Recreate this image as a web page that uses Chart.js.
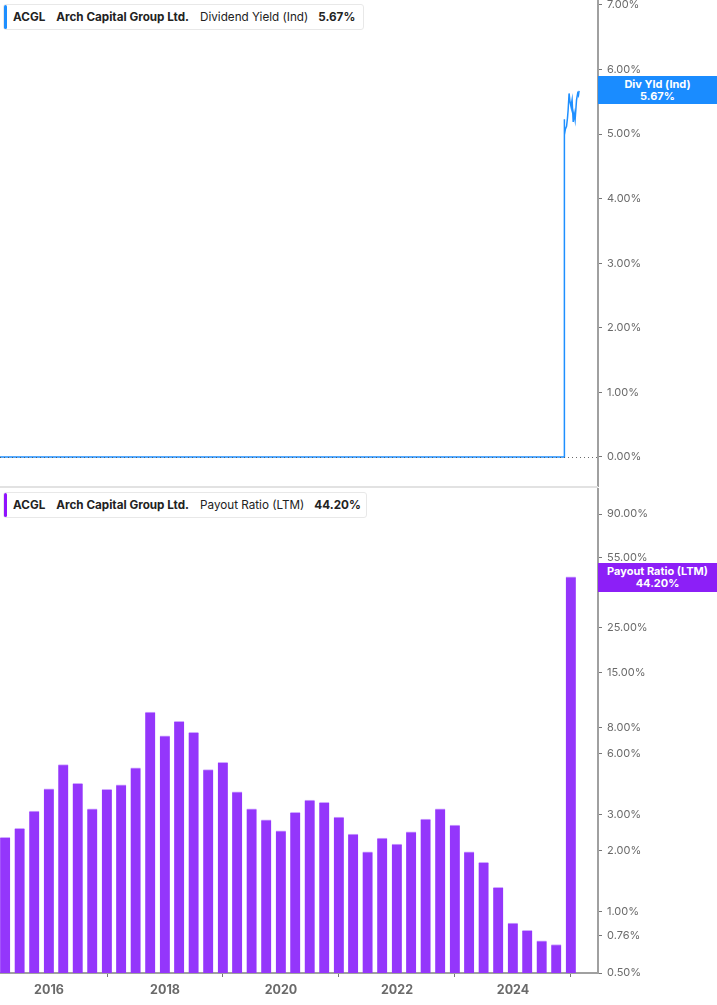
<!DOCTYPE html>
<html><head><meta charset="utf-8">
<script src="https://cdn.jsdelivr.net/npm/chart.js@4.4.1/dist/chart.umd.min.js"></script>
<style>
html,body{margin:0;padding:0;background:#fff;width:717px;height:1005px;overflow:hidden;font-family:Inter,"Noto Sans",sans-serif;}
#wrapTop{position:absolute;left:0;top:0;width:717px;height:487px;}
#wrapBot{position:absolute;left:0;top:488px;width:717px;height:517px;}
.divider{position:absolute;left:0;top:486px;width:598px;height:2px;background:#e2e2e2;}
.legend{position:absolute;background:#fff;border:1px solid #e8e8e8;border-radius:3px;font-size:11.7px;color:#222;height:26px;line-height:25px;padding:0 0 0 9px;white-space:nowrap;box-sizing:border-box}
.legend .bar{position:absolute;left:0;top:0;bottom:0;width:3px;border-radius:2px}
.legend span{margin-right:10px}
.legend b{font-weight:700}
.badge{position:absolute;left:598px;width:119px;color:#fff;font-size:11px;font-weight:700;text-align:center;line-height:11.5px;box-sizing:border-box;padding-top:3px}
</style>
</head><body>
<div id="wrapTop"><canvas id="cTop"></canvas></div>
<div class="divider"></div>
<div id="wrapBot"><canvas id="cBot"></canvas></div>

<div class="legend" style="left:3px;top:4px;width:361px;">
  <div class="bar" style="background:#1e8fff"></div>
  <b style="margin-right:11px">ACGL</b><b style="margin-right:11px">Arch Capital Group Ltd.</b><span>Dividend Yield (Ind)</span><b>5.67%</b>
</div>
<div class="legend" style="left:3px;top:492px;width:364px;">
  <div class="bar" style="background:#9013fe"></div>
  <b style="margin-right:11px">ACGL</b><b style="margin-right:11px">Arch Capital Group Ltd.</b><span>Payout Ratio (LTM)</span><b>44.20%</b>
</div>
<div class="badge" style="top:76px;height:28px;background:#1a8cff;">Div Yld (Ind)<br>5.67%</div>
<div class="badge" style="top:563px;height:29px;background:#8c1ff7;">Payout Ratio (LTM)<br>44.20%</div>

<script>
// ---- Data ----
const yieldDates = ["2015-01-01","2024-11-18","2024-11-19","2024-11-22","2024-11-27","2024-12-04","2024-12-10","2024-12-14","2024-12-20","2024-12-26","2025-01-01","2025-01-08","2025-01-15","2025-01-21","2025-01-27","2025-02-05","2025-02-12","2025-02-17","2025-02-21"];
const yieldValues = [0,0,5.23,4.99,5.08,5.12,5.25,5.37,5.63,5.50,5.43,5.53,5.19,5.32,5.22,5.53,5.63,5.60,5.67];

const payoutQuarters = ["2015-03-31","2015-06-30","2015-09-30","2015-12-31","2016-03-31","2016-06-30","2016-09-30","2016-12-31","2017-03-31","2017-06-30","2017-09-30","2017-12-31","2018-03-31","2018-06-30","2018-09-30","2018-12-31","2019-03-31","2019-06-30","2019-09-30","2019-12-31","2020-03-31","2020-06-30","2020-09-30","2020-12-31","2021-03-31","2021-06-30","2021-09-30","2021-12-31","2022-03-31","2022-06-30","2022-09-30","2022-12-31","2023-03-31","2023-06-30","2023-09-30","2023-12-31","2024-03-31","2024-06-30","2024-09-30","2024-12-31"];
const payoutValues = [2.32,2.57,3.12,4.02,5.28,4.28,3.20,4.00,4.21,5.10,9.58,7.33,8.63,7.62,4.99,5.43,3.88,3.20,2.83,2.50,3.08,3.54,3.45,2.92,2.41,1.97,2.30,2.15,2.47,2.85,3.20,2.67,1.97,1.75,1.32,0.88,0.81,0.72,0.69,44.20];

const yieldTicks = [0,1,2,3,4,5,6,7];
const payoutTicks = [0.5,0.76,1,2,3,6,8,15,25,45,55,90];
const yearTicks = [2016,2018,2020,2022,2024];

// ---- helpers ----
function decYear(s){
  const [y,m,d] = s.split('-').map(Number);
  const start = Date.UTC(y,0,1), end = Date.UTC(y+1,0,1);
  return y + (Date.UTC(y,m-1,d) - start)/(end-start);
}
const X_MIN = 2015.155, X_MAX = 2025.466;
const tickFont = {family:'Inter', size:11};
const tickColor = '#6a6a6a';
const axisColor = '#a0a0a0';
function noPad(s){ s.paddingTop = 0; s.paddingBottom = 0; }

const zeroLine = {
  id:'zeroLine',
  afterDatasetsDraw(chart){
    const y = Math.round(chart.scales.y.getPixelForValue(0));
    const ctx = chart.ctx, a = chart.chartArea;
    ctx.save();
    ctx.strokeStyle = 'rgba(80,80,80,0.85)';
    ctx.lineWidth = 1;
    ctx.setLineDash([1,3]);
    ctx.beginPath(); ctx.moveTo(a.left, y+0.5); ctx.lineTo(a.right, y+0.5); ctx.stroke();
    ctx.restore();
  }
};

// ---- Top chart ----
new Chart(document.getElementById('cTop'), {
  type:'line',
  data:{datasets:[{
    data: yieldDates.map((d,i)=>({x:decYear(d), y:yieldValues[i]})),
    borderColor:'#1e8fff', borderWidth:1.5, pointRadius:0, tension:0, fill:false
  }]},
  options:{
    responsive:true, maintainAspectRatio:false, animation:false,
    layout:{padding:0},
    plugins:{legend:{display:false}, tooltip:{enabled:false}},
    scales:{
      x:{type:'linear', min:X_MIN, max:X_MAX, display:false},
      y:{
        position:'right', min:-0.4646, max:7.077,
        afterFit(s){ s.width = 119; noPad(s); },
        afterBuildTicks(s){ s.ticks = yieldTicks.map(v=>({value:v})); },
        ticks:{callback:v=>Number(v).toFixed(2)+'%', color:tickColor, font:tickFont, padding:5, autoSkip:false},
        grid:{drawOnChartArea:false, drawTicks:true, tickLength:4, tickColor:'#777', tickWidth:1},
        border:{display:true, color:axisColor, width:2}
      }
    }
  },
  plugins:[zeroLine]
});

// ---- Bottom chart ----
new Chart(document.getElementById('cBot'), {
  type:'bar',
  data:{datasets:[{
    data: payoutQuarters.map((d,i)=>({x:decYear(d), y:payoutValues[i]})),
    backgroundColor:'#9436fb',
    borderColor:'#cfa9ff',
    borderWidth:{top:1,left:0,right:0,bottom:0},
    borderSkipped:'bottom',
    barThickness:10
  }]},
  options:{
    responsive:true, maintainAspectRatio:false, animation:false,
    layout:{padding:0},
    plugins:{legend:{display:false}, tooltip:{enabled:false}},
    scales:{
      x:{
        type:'linear', min:X_MIN, max:X_MAX, offset:false,
        afterFit(s){ s.height = 32; s.paddingLeft = 0; s.paddingRight = 0; },
        afterBuildTicks(s){ s.ticks = yearTicks.map(v=>({value:v})); },
        ticks:{callback:v=>String(v), color:'#6a6a6a', font:{family:'Inter', size:12.5, weight:'bold'}, padding:6, maxRotation:0, autoSkip:false},
        grid:{drawOnChartArea:false, drawTicks:true, tickLength:4, tickColor:'#777'},
        border:{display:true, color:axisColor, width:2}
      },
      y:{
        type:'logarithmic', position:'right', min:0.5, max:120.9,
        afterFit(s){ s.width = 119; noPad(s); },
        afterBuildTicks(s){ s.ticks = payoutTicks.map(v=>({value:v})); },
        ticks:{callback:v=>Number(v).toFixed(2)+'%', color:tickColor, font:tickFont, padding:5, autoSkip:false},
        grid:{drawOnChartArea:false, drawTicks:true, tickLength:4, tickColor:'#777'},
        border:{display:true, color:axisColor, width:2}
      }
    }
  }
});
</script>
</body></html>
